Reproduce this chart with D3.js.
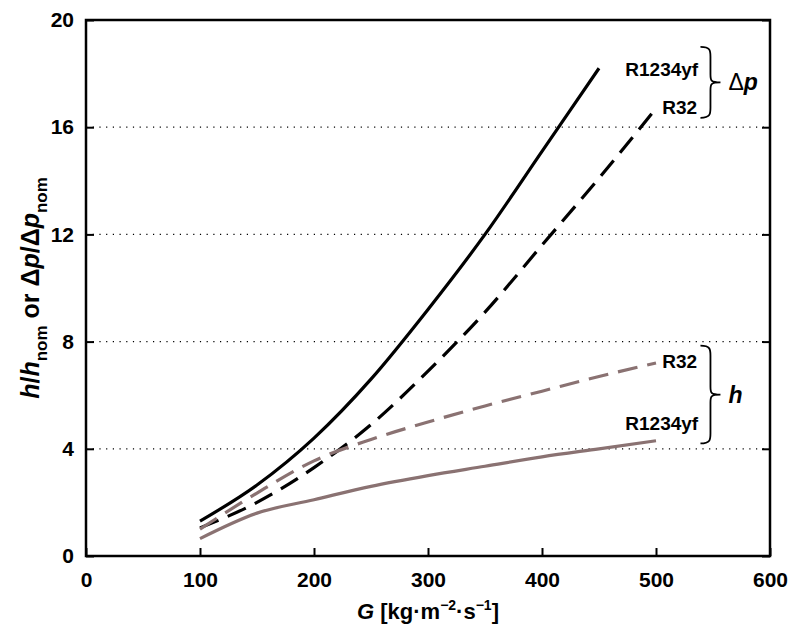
<!DOCTYPE html>
<html>
<head>
<meta charset="utf-8">
<script src="https://cdn.jsdelivr.net/npm/d3@7"></script>
<style>
  body { margin: 0; background: #fff; }
  text { font-family: "Liberation Sans", Arial, sans-serif; font-weight: bold; }
</style>
</head>
<body>
<svg id="chart" width="800" height="637"></svg>
<script>
// data
const massFlux = [100, 150, 200, 250, 300, 350, 400, 450, 500];
const dpR1234yf = [1.3, 2.65, 4.4, 6.6, 9.2, 12.0, 15.1, 18.2];
const dpR32 = [1.05, 2.0, 3.3, 4.9, 6.9, 9.1, 11.6, 14.1, 16.7];
const hR32 = [1.0, 2.35, 3.55, 4.35, 5.0, 5.6, 6.15, 6.7, 7.2];
const hR1234yf = [0.65, 1.6, 2.1, 2.6, 3.0, 3.35, 3.7, 4.0, 4.3];
const xTicks = [0, 100, 200, 300, 400, 500, 600];
const yTicks = [0, 4, 8, 12, 16, 20];
const gridValues = [4, 8, 12, 16];

const series = [
  { name: "dpR1234yf", values: dpR1234yf, color: "#000", dash: null },
  { name: "dpR32", values: dpR32, color: "#000", dash: "20,10" },
  { name: "hR32", values: hR32, color: "#8a7272", dash: "20,10" },
  { name: "hR1234yf", values: hR1234yf, color: "#8a7272", dash: null },
];

const svg = d3.select("#chart");
const margin = { left: 86, right: 30, top: 20, bottom: 81 };
const width = 800 - margin.left - margin.right;
const height = 637 - margin.top - margin.bottom;

const x = d3.scaleLinear().domain([0, 600]).range([0, width]);
const y = d3.scaleLinear().domain([0, 20]).range([height, 0]);

const g = svg.append("g").attr("transform", `translate(${margin.left},${margin.top})`);

// Dotted gridlines
g.selectAll(".grid")
  .data(gridValues)
  .join("line")
  .attr("x1", 0)
  .attr("x2", width)
  .attr("y1", (d) => y(d))
  .attr("y2", (d) => y(d))
  .attr("stroke", "#000")
  .attr("stroke-width", 1.2)
  .attr("stroke-dasharray", "1.2,5.5");

// Lines
const lineGen = d3
  .line()
  .x((d) => x(d[0]))
  .y((d) => y(d[1]))
  .curve(d3.curveMonotoneX);

g.selectAll(".line")
  .data(series)
  .join("path")
  .attr("class", "line")
  .attr("d", (s) => lineGen(s.values.map((v, i) => [massFlux[i], v])))
  .attr("fill", "none")
  .attr("stroke", (s) => s.color)
  .attr("stroke-width", 3.2)
  .attr("stroke-dasharray", (s) => s.dash);

// Axes (ticks inward)
g.append("g")
  .attr("transform", `translate(0,${height})`)
  .call(d3.axisBottom(x).tickValues(xTicks).tickSize(-8).tickPadding(16))
  .call((a) => a.select(".domain").remove())
  .call((a) => a.selectAll("line").attr("stroke-width", 2))
  .call((a) => a.selectAll("text").style("font-size", "21px").attr("fill", "#000"));

g.append("g")
  .call(d3.axisLeft(y).tickValues(yTicks).tickSize(-8).tickPadding(12))
  .call((a) => a.select(".domain").remove())
  .call((a) => a.selectAll("line").attr("stroke-width", 2))
  .call((a) => a.selectAll("text").style("font-size", "21px").attr("fill", "#000"));

g.append("g")
  .attr("transform", `translate(${width},0)`)
  .call(d3.axisRight(y).tickValues(yTicks).tickSize(-8).tickFormat(""))
  .call((a) => a.select(".domain").remove())
  .call((a) => a.selectAll("line").attr("stroke-width", 2));

// Frame
g.append("rect")
  .attr("width", width)
  .attr("height", height)
  .attr("fill", "none")
  .attr("stroke", "#000")
  .attr("stroke-width", 2.5);

// Axis titles
const xt = svg.append("text")
  .attr("x", margin.left + width / 2)
  .attr("y", 619)
  .attr("text-anchor", "middle")
  .style("font-size", "22px");
xt.append("tspan").style("font-style", "italic").text("G");
xt.append("tspan").text(" [kg·m");
xt.append("tspan").attr("dy", -9).style("font-size", "14px").text("−2");
xt.append("tspan").attr("dy", 9).text("·s");
xt.append("tspan").attr("dy", -9).style("font-size", "14px").text("−1");
xt.append("tspan").attr("dy", 9).text("]");

const yt = svg.append("text")
  .attr("transform", `translate(39,${margin.top + height / 2}) rotate(-90)`)
  .attr("text-anchor", "middle")
  .style("font-size", "25px");
yt.append("tspan").style("font-style", "italic").text("h");
yt.append("tspan").text("/");
yt.append("tspan").style("font-style", "italic").text("h");
yt.append("tspan").attr("dy", 8).style("font-size", "17px").text("nom");
yt.append("tspan").attr("dy", -8).text(" or Δ");
yt.append("tspan").style("font-style", "italic").text("p");
yt.append("tspan").text("/Δ");
yt.append("tspan").style("font-style", "italic").text("p");
yt.append("tspan").attr("dy", 8).style("font-size", "17px").text("nom");

// Series labels with braces
const labels = [
  { text: "R1234yf", gx: 537, gv: 17.9 },
  { text: "R32", gx: 536, gv: 16.5 },
  { text: "R32", gx: 536, gv: 7.0 },
  { text: "R1234yf", gx: 537, gv: 4.7 },
];
g.selectAll(".lbl")
  .data(labels)
  .join("text")
  .attr("class", "lbl")
  .attr("x", (d) => x(d.gx))
  .attr("y", (d) => y(d.gv))
  .attr("text-anchor", "end")
  .style("font-size", "19px")
  .text((d) => d.text);

function brace(x0, y0, y1, w) {
  const m = (y0 + y1) / 2;
  const h = w / 2;
  return `M${x0},${y0} C${x0 + h},${y0} ${x0 + h},${y0 + 4} ${x0 + h},${y0 + 10}` +
    ` L${x0 + h},${m - 8} C${x0 + h},${m - 2} ${x0 + h},${m} ${x0 + w},${m}` +
    ` C${x0 + h},${m} ${x0 + h},${m + 2} ${x0 + h},${m + 8}` +
    ` L${x0 + h},${y1 - 10} C${x0 + h},${y1 - 4} ${x0 + h},${y1} ${x0},${y1}`;
}
const braces = [
  { v0: 19.0, v1: 16.35, sym: "p", pre: "Δ" },
  { v0: 7.85, v1: 4.2, sym: "h", pre: "" },
];
braces.forEach((b) => {
  const bx = x(539);
  g.append("path")
    .attr("d", brace(bx, y(b.v0), y(b.v1), 20))
    .attr("fill", "none")
    .attr("stroke", "#000")
    .attr("stroke-width", 1.8);
  const t = g.append("text")
    .attr("x", bx + 28)
    .attr("y", (y(b.v0) + y(b.v1)) / 2 + 8)
    .style("font-size", "23px");
  if (b.pre) t.append("tspan").style("font-weight", "normal").text(b.pre);
  t.append("tspan").style("font-style", "italic").text(b.sym);
});
</script>
</body>
</html>
